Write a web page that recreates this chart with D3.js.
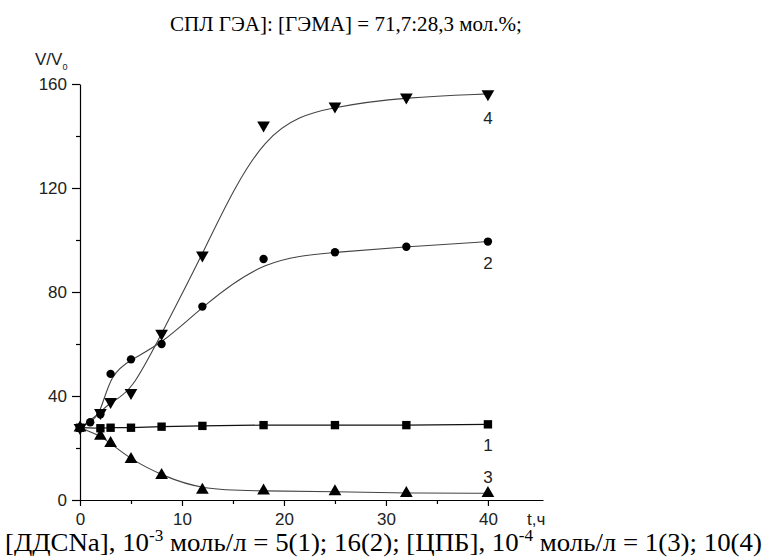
<!DOCTYPE html>
<html>
<head>
<meta charset="utf-8">
<script src="https://cdn.jsdelivr.net/npm/d3@7"></script>
<style>
  html, body { margin: 0; padding: 0; background: #fff; }
  svg { display: block; }
  .tick text, .lbl { font-family: "Liberation Sans Narrow", "Liberation Sans", Arial, sans-serif; font-size: 17px; fill: #222; }
  .cap { font-family: "Liberation Serif", "Times New Roman", serif; fill: #000; }
</style>
</head>
<body>
<svg id="chart" width="766" height="559"></svg>
<script>
// Swelling ratio V/V0 versus time t (hours) for four surfactant solutions
const tSquares = [0, 2, 3, 5, 8, 12, 18, 25, 32, 40];
const vSquares = [27.8, 27.6, 27.8, 27.8, 28.2, 28.5, 28.8, 28.8, 28.8, 29.1];

const tCircles = [0, 1, 2, 3, 5, 8, 12, 18, 25, 32, 40];
const vCircles = [27.8, 29.9, 33.0, 48.5, 54.1, 60.0, 74.4, 92.7, 95.3, 97.4, 99.4];

const tUp = [0, 2, 3, 5, 8, 12, 18, 25, 32, 40];
const vUp = [27.8, 24.6, 21.8, 15.6, 9.5, 3.8, 3.5, 3.2, 2.6, 2.6];

const tDown = [0, 2, 3, 5, 8, 12, 18, 25, 32, 40];
const vDown = [27.8, 33.6, 37.8, 41.3, 64.1, 94.2, 144.2, 151.5, 154.9, 156.2];

const xMajor = [0, 10, 20, 30, 40];
const xMinor = [5, 15, 25, 35];
const yMajor = [0, 40, 80, 120, 160];
const yMinor = [20, 60, 100, 140];

const svg = d3.select("#chart");
const x = d3.scaleLinear().domain([0, 45.4]).range([80, 543]);
const y = d3.scaleLinear().domain([0, 160]).range([500, 84]);

// Axes
svg.append("g").attr("transform", `translate(0,${y(0)})`)
  .call(d3.axisBottom(x).tickValues(xMajor).tickSize(6).tickPadding(7).tickSizeOuter(0));
svg.append("g").attr("transform", `translate(0,${y(0)})`)
  .call(d3.axisBottom(x).tickValues(xMinor).tickSize(4).tickFormat("").tickSizeOuter(0))
  .select(".domain").remove();

svg.append("g").attr("transform", `translate(${x(0)},0)`)
  .call(d3.axisLeft(y).tickValues(yMajor).tickSize(8).tickPadding(5).tickSizeOuter(0));
svg.append("g").attr("transform", `translate(${x(0)},0)`)
  .call(d3.axisLeft(y).tickValues(yMinor).tickSize(4).tickFormat("").tickSizeOuter(0))
  .select(".domain").remove();

svg.selectAll(".domain, .tick line").attr("stroke", "#000").attr("stroke-width", 1.2);
svg.selectAll(".tick text").attr("font-family", null).attr("font-size", null);

// Axis titles
const yt = svg.append("text").attr("class", "lbl").attr("x", 35).attr("y", 65);
yt.append("tspan").text("V/V");
yt.append("tspan").attr("font-size", 9).attr("dy", 5).text("0");
svg.append("text").attr("class", "lbl").attr("x", 527).attr("y", 525).text("t,ч");

// Curves
const lineLinear = d3.line().x(d => x(d[0])).y(d => y(d[1]));
const lineSmooth = d3.line().x(d => x(d[0])).y(d => y(d[1])).curve(d3.curveBasis);
const zip = (a, b) => a.map((v, i) => [v, b[i]]);

svg.append("path").datum(zip(tSquares, vSquares)).attr("d", lineLinear)
  .attr("fill", "none").attr("stroke", "#111").attr("stroke-width", 1.2);
[[tCircles, vCircles], [tUp, vUp], [tDown, vDown]].forEach(([t, v]) => {
  svg.append("path").datum(zip(t, v)).attr("d", lineSmooth)
    .attr("fill", "none").attr("stroke", "#444").attr("stroke-width", 1.1);
});

// Markers
const sym = (type, size) => d3.symbol().type(type).size(size);
const tri = d3.symbolTriangle;
function markers(t, v, path, rot) {
  svg.append("g").selectAll("path").data(zip(t, v)).join("path")
    .attr("transform", d => `translate(${x(d[0])},${y(d[1])})` + (rot ? " rotate(180)" : ""))
    .attr("d", path).attr("fill", "#000");
}
markers(tSquares, vSquares, sym(d3.symbolSquare, 70)(), false);
markers(tCircles, vCircles, sym(d3.symbolCircle, 55)(), false);
markers(tUp, vUp, sym(tri, 70)(), false);
markers(tDown, vDown, sym(tri, 70)(), true);

// Curve numbers beside the last point of each curve
const curveLabels = [["1", vSquares[vSquares.length - 1], 27], ["2", vCircles[vCircles.length - 1], 27],
                     ["3", vUp[vUp.length - 1], -10], ["4", vDown[vDown.length - 1], 30]];
curveLabels.forEach(([s, vv, dy]) => {
  svg.append("text").attr("class", "lbl").attr("x", x(40)).attr("y", y(vv) + dy)
    .attr("text-anchor", "middle").text(s);
});

// Stretch a text element horizontally so it spans [x0, x1]
function fitWidth(sel, x0, x1) {
  const w = sel.node().getComputedTextLength();
  sel.attr("x", 0).attr("transform", `translate(${x0},0) scale(${(x1 - x0) / w},1)`);
}

// Heading and caption
const head = svg.append("text").attr("class", "cap").attr("y", 31).attr("font-size", 21)
  .text("СПЛ ГЭА]: [ГЭМА] = 71,7:28,3 мол.%;");
fitWidth(head, 170, 522);

const cap = svg.append("text").attr("class", "cap").attr("y", 551).attr("font-size", 25);
cap.append("tspan").text("[ДДСNa], 10");
cap.append("tspan").attr("font-size", 16).attr("dy", -10).text("-3");
cap.append("tspan").attr("dy", 10).text(" моль/л = 5(1); 16(2); [ЦПБ], 10");
cap.append("tspan").attr("font-size", 16).attr("dy", -10).text("-4");
cap.append("tspan").attr("dy", 10).text(" моль/л = 1(3); 10(4)");
fitWidth(cap, 5, 762);
</script>
</body>
</html>
